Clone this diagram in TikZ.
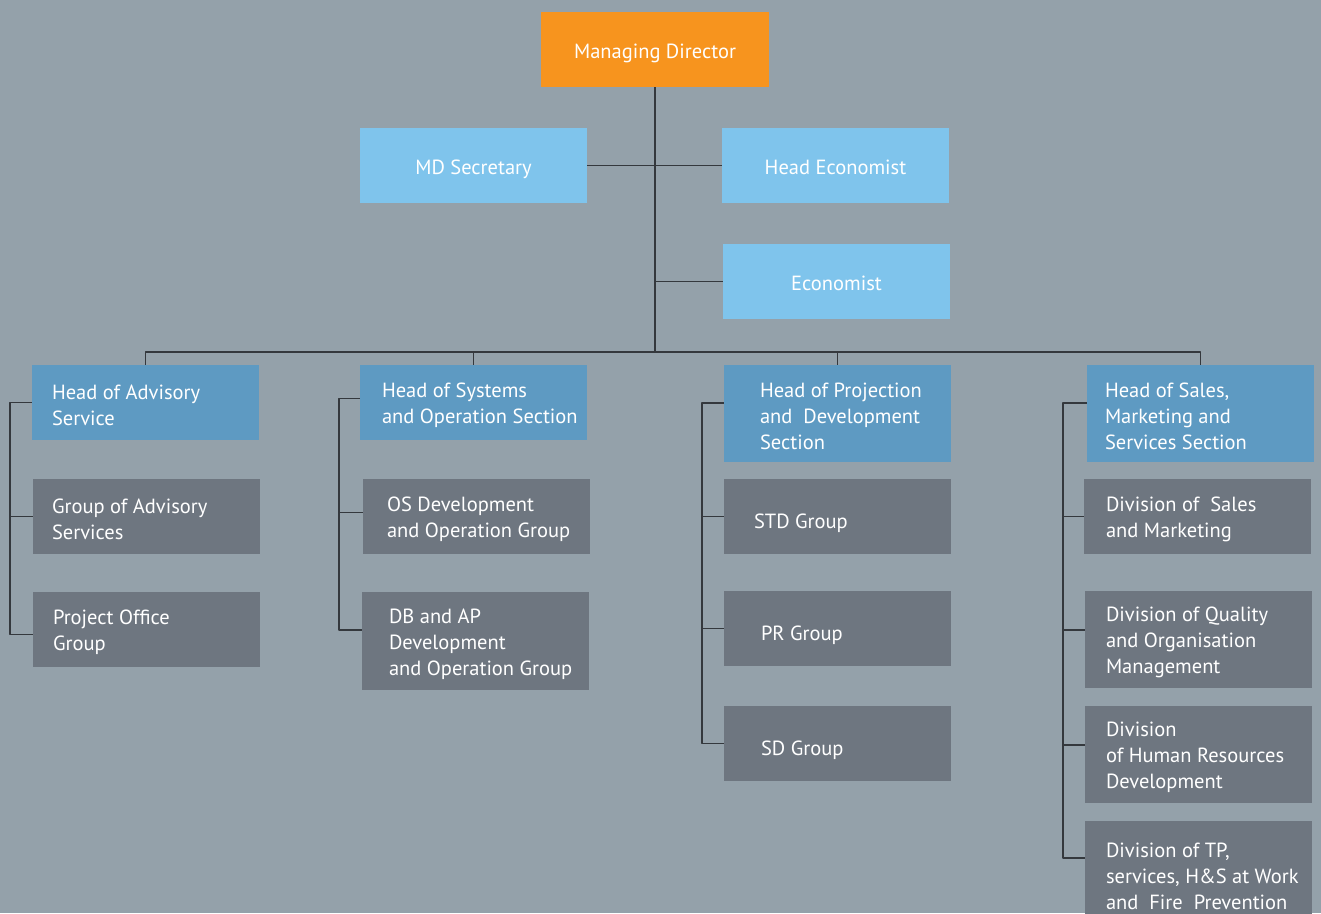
\documentclass[tikz,border=0pt]{standalone}
\usepackage{fontspec}
\setmainfont{PT Sans}
\usetikzlibrary{positioning}
\definecolor{bgcol}{RGB}{148,161,170}
\definecolor{mdorange}{RGB}{247,148,30}
\definecolor{staffblue}{RGB}{127,196,236}
\definecolor{headblue}{RGB}{94,154,194}
\definecolor{groupgrey}{RGB}{110,118,128}
\definecolor{wiregrey}{RGB}{52,56,61}
\begin{document}
\begin{tikzpicture}[x=1pt,y=-1pt,line join=round,line cap=rect]
	\tikzset{box/.style={minimum width=227pt,minimum height=75pt,inner sep=0pt,text=white,
			text height=20pt,text depth=2pt,font=\fontsize{20.5}{26}\selectfont},
		tall/.style={minimum height=#1},
		txt/.style={inner sep=0pt,align=left,text=white,yshift=-3pt,font=\fontsize{20.5}{26}\selectfont},
		oneline/.style={txt,text height=20pt,text depth=2pt},
		wire/.style={draw=wiregrey,line width=1.3pt}}
	\clip (0,0) rectangle (1321,913);
	\fill[bgcol] (0,0) rectangle (1321,913);
	% top level
	\node[box,fill=mdorange,minimum width=228pt] (md) at (655,49.5) {Managing Director};
	\node[box,fill=staffblue] (sec) at (473.5,165.5) {MD Secretary};
	\node[box,fill=staffblue] (hecon) at (835.5,165.5) {Head Economist};
	\node[box,fill=staffblue] (econ) at (836.5,281.5) {Economist};
	% advisory
	\node[box,fill=headblue] (hadv) at (145.5,402.5) {};
	\node[txt,right=20pt of hadv.west] (hadv-t) {Head of Advisory\\Service};
	\node[box,fill=groupgrey] (gadv) at (146.5,516.5) {};
	\node[txt,right=19pt of gadv.west] (gadv-t) {Group of Advisory\\Services};
	\node[box,fill=groupgrey] (pog) at (146.5,629.5) {};
	\node[txt,right=20pt of pog.west] (pog-t) {Project Office\\Group};
	% systems and operation
	\node[box,fill=headblue] (hsys) at (473.5,402.5) {};
	\node[txt,right=22pt of hsys.west] (hsys-t) {Head of Systems\\and Operation Section};
	\node[box,fill=groupgrey] (osd) at (476.5,516.5) {};
	\node[txt,right=24pt of osd.west] (osd-t) {OS Development\\and Operation Group};
	\node[box,fill=groupgrey,tall=98pt] (dbap) at (475.5,641) {};
	\node[txt,right=27pt of dbap.west] (dbap-t) {DB and AP\\Development\\and Operation Group};
	% projection and development
	\node[box,fill=headblue,tall=97pt] (hproj) at (837.5,413.5) {};
	\node[txt,right=36pt of hproj.west] (hproj-t) {Head of Projection\\and~~Development\\Section};
	\node[box,fill=groupgrey] (std) at (837.5,516.5) {};
	\node[oneline,right=30pt of std.west] (std-t) {STD Group};
	\node[box,fill=groupgrey] (pr) at (837.5,628.5) {};
	\node[oneline,right=37pt of pr.west] (pr-t) {PR Group};
	\node[box,fill=groupgrey] (sd) at (837.5,743.5) {};
	\node[oneline,right=37pt of sd.west] (sd-t) {SD Group};
	% sales, marketing and services
	\node[box,fill=headblue,tall=97pt] (hsal) at (1200.5,413.5) {};
	\node[txt,right=18pt of hsal.west] (hsal-t) {Head of Sales,\\Marketing and\\Services Section};
	\node[box,fill=groupgrey] (dsm) at (1197.5,516.5) {};
	\node[txt,right=22pt of dsm.west] (dsm-t) {Division of~~Sales\\and Marketing};
	\node[box,fill=groupgrey,tall=97pt] (dqm) at (1198.5,639.5) {};
	\node[txt,right=21pt of dqm.west] (dqm-t) {Division of Quality\\and Organisation\\Management};
	\node[box,fill=groupgrey,tall=97pt] (dhr) at (1198.5,754.5) {};
	\node[txt,right=21pt of dhr.west] (dhr-t) {Division\\of Human Resources\\Development};
	\node[box,fill=groupgrey,tall=104pt] (dtp) at (1198.5,873) {};
	\node[txt,right=21pt of dtp.west] (dtp-t) {Division of TP,\\services, H\&S at Work\\and~~Fire~~Prevention};
	% connectors
	\coordinate (bus) at (655,352);
	\coordinate (rail1) at (10,0);
	\coordinate (rail2) at (339,0);
	\coordinate (rail3) at (702,0);
	\coordinate (rail4) at (1063,0);
	\draw[wire] (md.south) -- (bus);
	\draw[wire] (sec.east) -- (hecon.west);
	\draw[wire] (econ.west) -- (econ.west -| md.south);
	\draw[wire] (hadv.north) |- (bus) -| (hsal.north);
	\draw[wire] (hsys.north) -- (hsys.north |- bus);
	\draw[wire] (hproj.north) -- (hproj.north |- bus);
	\draw[wire] (hadv.west) -- (hadv.west -| rail1) |- ([yshift=-5pt]pog.west);
	\draw[wire] (gadv.west) -- (gadv.west -| rail1);
	\draw[wire] ([yshift=4pt]hsys.west) -- ([yshift=4pt]hsys.west -| rail2) |- ([yshift=11pt]dbap.west);
	\draw[wire] ([yshift=4pt]osd.west) -- ([yshift=4pt]osd.west -| rail2);
	\draw[wire] ([yshift=10.5pt]hproj.west) -- ([yshift=10.5pt]hproj.west -| rail3) |- (sd.west);
	\foreach \n in {std,pr}
		\draw[wire] (\n.west) -- (\n.west -| rail3);
	\draw[wire] ([yshift=10.5pt]hsal.west) -- ([yshift=10.5pt]hsal.west -| rail4) |- ([yshift=15pt]dtp.west);
	\draw[wire] (dsm.west) -- (dsm.west -| rail4);
	\foreach \n in {dqm,dhr}
		\draw[wire] ([yshift=9.5pt]\n.west) -- ([yshift=9.5pt]\n.west -| rail4);
\end{tikzpicture}
\end{document}
